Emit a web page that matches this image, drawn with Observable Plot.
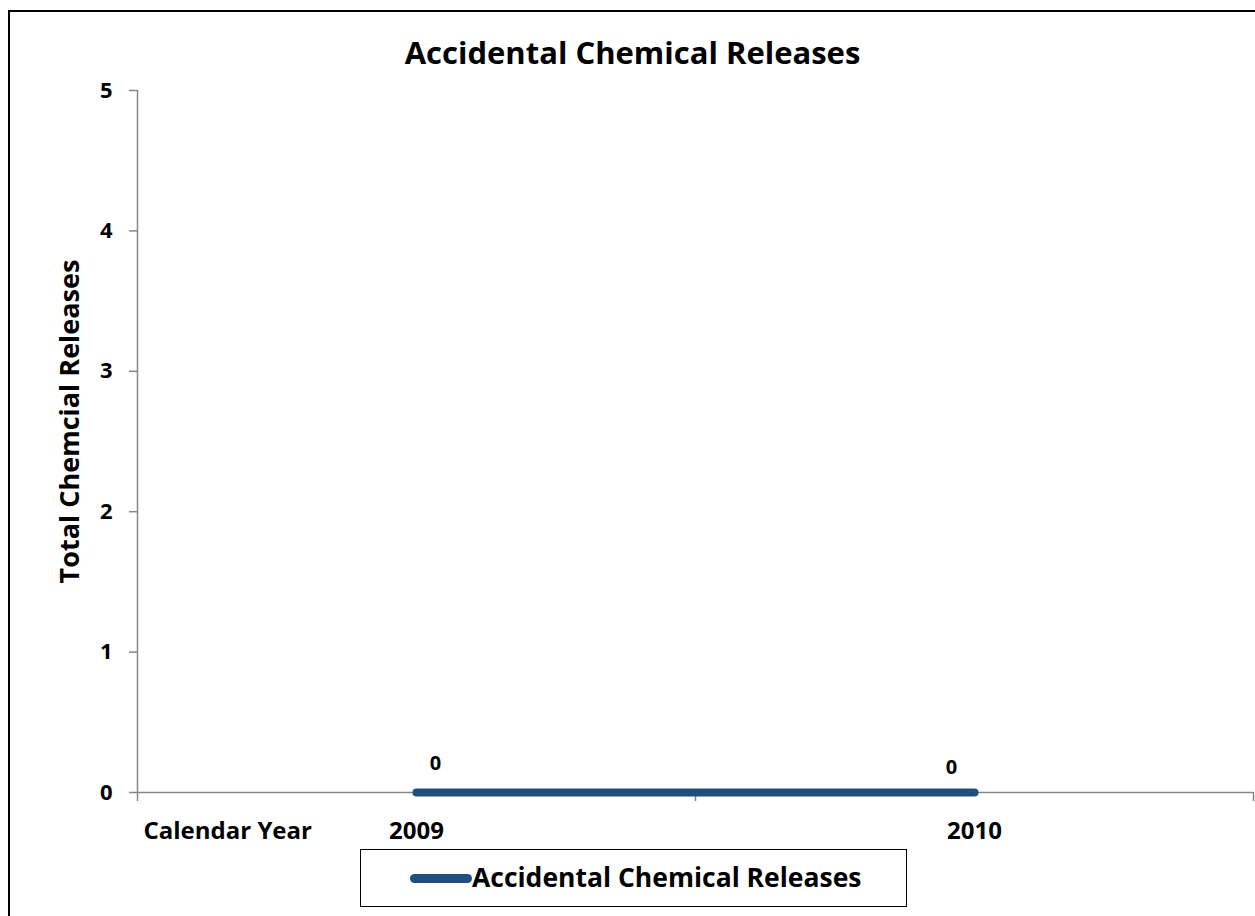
<!DOCTYPE html>
<html>
<head>
<meta charset="utf-8">
<script src="https://cdn.jsdelivr.net/npm/d3@7"></script>
<script src="https://cdn.jsdelivr.net/npm/@observablehq/plot@0.6"></script>
<style>
  html, body { margin: 0; padding: 0; background: #fff; }
  #wrap { position: relative; width: 1255px; height: 916px; overflow: hidden; font-family: "Open Sans", Lato, sans-serif; }
  #frame { position: absolute; left: 8px; top: 10px; width: 1400px; height: 1000px; border: 2px solid #000; pointer-events: none; }
  #legend { position: absolute; left: 360px; top: 849px; width: 545px; height: 56px; border: 1.5px solid #000; background: #fff; }
  #legend .sw { position: absolute; left: 49px; top: 24px; width: 62px; height: 9px; border-radius: 5px; }
  #legend .lab { position: absolute; left: 111px; top: 9px; font-size: 26.5px; font-weight: bold; color: #000; white-space: nowrap; line-height: 36px; }
</style>
</head>
<body>
<div id="wrap"></div>
<script>
const title = "Accidental Chemical Releases";
const yTitle = "Total Chemcial Releases";
const xTitle = "Calendar Year";
const seriesName = "Accidental Chemical Releases";
const years = ["2009", "2010"];
const values = [0, 0];
const yTicks = [0, 1, 2, 3, 4, 5];
const lineColor = "#1F4E7F";
const axisColor = "#868686";

const data = years.map((year, i) => ({year, value: values[i], pos: i + 0.5, i}));
const boundaries = d3.range(years.length + 1);

const chart = Plot.plot({
  width: 1255,
  height: 916,
  marginLeft: 137,
  marginRight: 2,
  marginTop: 90,
  marginBottom: 124,
  style: {fontFamily: "'Open Sans', Lato, sans-serif", background: "#fff", color: "#000"},
  x: {type: "linear", domain: [0, years.length], axis: null},
  y: {type: "linear", domain: [0, 5], axis: null},
  marks: [
    Plot.ruleX([0], {stroke: axisColor, strokeWidth: 1.5}),
    Plot.ruleY([0], {stroke: axisColor, strokeWidth: 1.5}),
    Plot.axisY({ticks: yTicks, tickFormat: d3.format("d"), tickSize: 8, tickPadding: 17, stroke: axisColor, strokeWidth: 1.5, fill: "#000", fontSize: 22, fontWeight: "bold", label: null}),
    Plot.axisX({ticks: boundaries, tickSize: 9, tickFormat: () => "", stroke: axisColor, strokeWidth: 1.5, label: null}),
    Plot.text(data, {x: "pos", y: 0, text: "year", dy: 39, lineAnchor: "middle", fontSize: 24, fontWeight: "bold", fill: "#000"}),
    Plot.text([xTitle], {frameAnchor: "bottom-left", text: d => d, textAnchor: "start", dx: 6, dy: 39, lineAnchor: "middle", fontSize: 24, fontWeight: "bold", fill: "#000"}),
    Plot.text([title], {frameAnchor: "top", text: d => d, textAnchor: "middle", dx: -63, dy: -36, lineAnchor: "middle", fontSize: 31, fontWeight: "bold", fill: "#000"}),
    Plot.text([yTitle], {frameAnchor: "left", text: d => d, textAnchor: "middle", rotate: -90, dx: -67, dy: -20, lineAnchor: "middle", fontSize: 27, fontWeight: "bold", fill: "#000"}),
    Plot.line(data, {x: "pos", y: "value", stroke: lineColor, strokeWidth: 8, strokeLinecap: "round"}),
    Plot.text(data.filter(d => d.i === 0), {x: "pos", y: "value", text: d => String(d.value), dx: 19, dy: -29, lineAnchor: "middle", fontSize: 20, fontWeight: "bold", fill: "#000"}),
    Plot.text(data.filter(d => d.i === 1), {x: "pos", y: "value", text: d => String(d.value), dx: -23, dy: -25, lineAnchor: "middle", fontSize: 20, fontWeight: "bold", fill: "#000"})
  ]
});

const wrap = document.getElementById("wrap");
wrap.appendChild(chart);
const frame = document.createElement("div");
frame.id = "frame";
wrap.appendChild(frame);
const legend = document.createElement("div");
legend.id = "legend";
const sw = document.createElement("div");
sw.className = "sw";
sw.style.background = lineColor;
const lab = document.createElement("div");
lab.className = "lab";
lab.textContent = seriesName;
legend.appendChild(sw);
legend.appendChild(lab);
wrap.appendChild(legend);
</script>
</body>
</html>
